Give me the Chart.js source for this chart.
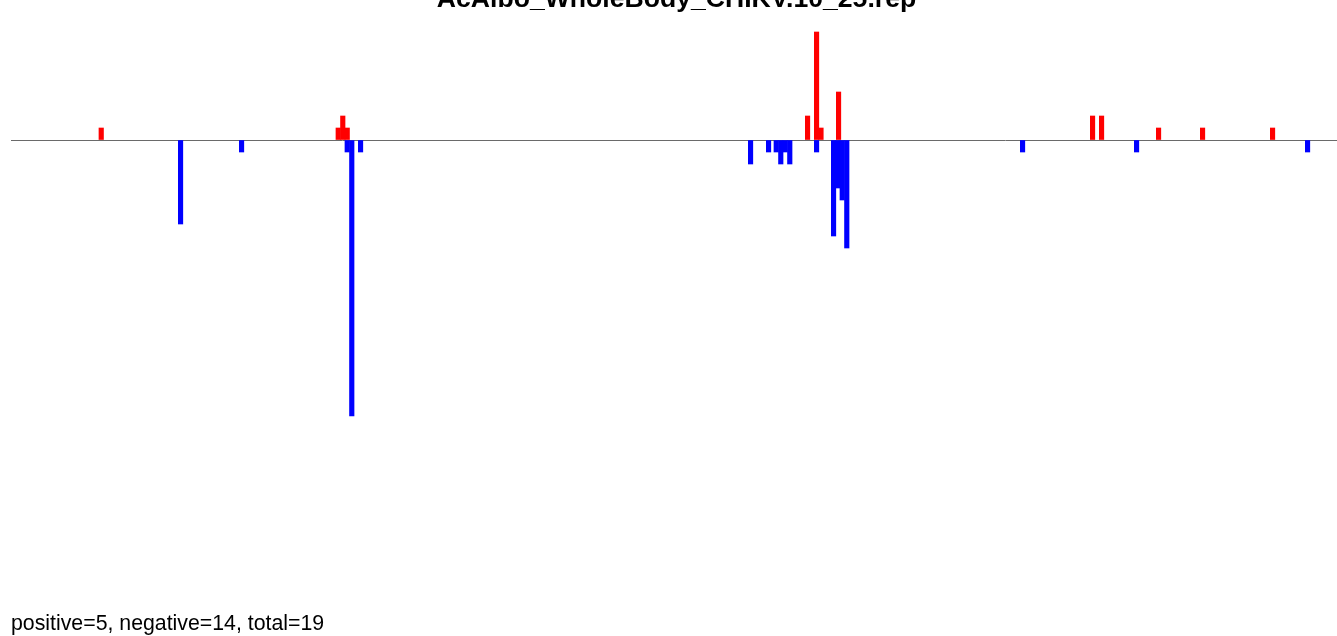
<!DOCTYPE html>
<html>
<head>
<meta charset="utf-8">
<script src="https://cdn.jsdelivr.net/npm/chart.js@4"></script>
<style>
  html, body { margin: 0; padding: 0; background: #fff; }
  canvas { display: block; }
</style>
</head>
<body>
<canvas id="repChart" width="1337" height="636"></canvas>
<script>
const chartTitle = "AcAlbo_WholeBody_CHIKV.10_25.rep";
const footerText = "positive=5, negative=14, total=19";
const genomeLength = 11934;

// positions along the genome and read counts (up = red, down = blue)
const posPositions = [812, 2945, 2986, 3026, 7169, 7250, 7290, 7448, 9734, 9815, 10328, 10724, 11354];
const posCounts = [1, 1, 2, 1, 2, 9, 1, 4, 2, 2, 1, 1, 1];
const negPositions = [1526, 2075, 3026, 3067, 3146, 6656, 6818, 6887, 6928, 6968, 7009, 7250, 7403, 7443, 7481, 7522, 9104, 10130, 11669];
const negCounts = [-7, -1, -1, -23, -1, -2, -1, -1, -2, -1, -2, -1, -8, -4, -5, -9, -1, -1, -1];

const toPoints = (xs, ys) => xs.map((x, i) => ({ x: x, y: ys[i] }));

// title and footer text drawn straight on the canvas
const captions = {
  id: "captions",
  afterDraw(chart) {
    const ctx = chart.ctx;
    ctx.save();
    ctx.fillStyle = "#000";
    ctx.textBaseline = "alphabetic";
    ctx.font = "bold 26.6px 'Liberation Sans', Arial, sans-serif";
    ctx.textAlign = "center";
    ctx.fillText(chartTitle, 676.5, 7);
    ctx.font = "21.3px 'Liberation Sans', Arial, sans-serif";
    ctx.textAlign = "left";
    ctx.fillText(footerText, 11, 630);
    ctx.restore();
  }
};

const ctx = document.getElementById("repChart").getContext("2d");
new Chart(ctx, {
  type: "bar",
  data: {
    datasets: [
      {
        label: "positive",
        data: toPoints(posPositions, posCounts),
        backgroundColor: "#ff0000",
        barThickness: 4.5,
      },
      {
        label: "negative",
        data: toPoints(negPositions, negCounts),
        backgroundColor: "#0000ff",
        barThickness: 4.5,
      },
    ],
  },
  options: {
    responsive: false,
    animation: false,
    layout: { padding: { top: 20, bottom: 46, left: 11, right: 0 } },
    plugins: {
      legend: { display: false },
      tooltip: { enabled: false },
      title: { display: false },
    },
    scales: {
      x: {
        type: "linear",
        min: 0,
        max: genomeLength,
        offset: false,
        stacked: true,
        display: false,
      },
      y: {
        min: -37.5,
        max: 10,
        stacked: false,
        z: 1,
        border: { display: false },
        ticks: { display: false, stepSize: 5 },
        grid: {
          drawTicks: false,
          color: (c) => (c.tick && c.tick.value === 0 ? "#6a6a6a" : "rgba(0,0,0,0)"),
          lineWidth: 1,
        },
      },
    },
  },
  plugins: [captions],
});
</script>
</body>
</html>
